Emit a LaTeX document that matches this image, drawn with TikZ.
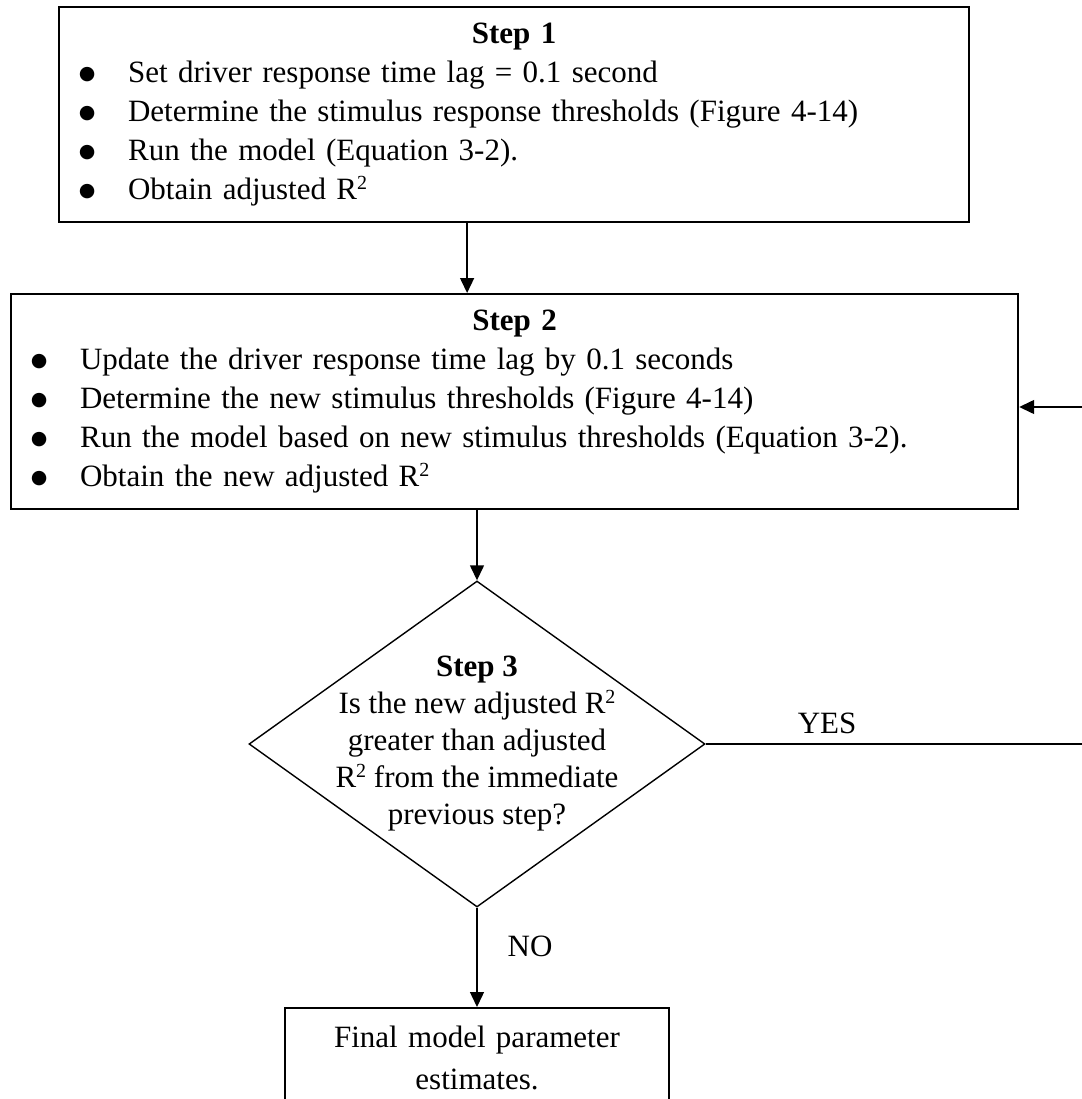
\documentclass[tikz,border=0pt]{standalone}
\usepackage{fontspec}
\setmainfont{Liberation Serif}
\newfontfamily\dotfont{DejaVu Sans}
\usetikzlibrary{arrows.meta, shapes.geometric, positioning, calc}

\newcommand{\stepitem}[1]{\hspace*{14pt}\makebox[28pt][c]{\raisebox{3pt}{\fontsize{19}{19}\dotfont ●}}\hspace*{27pt}#1}
\newcommand{\rsq}{R\raisebox{10pt}{\fontsize{20}{20}\selectfont 2}}

\begin{document}
\begin{tikzpicture}[x=1pt, y=-1pt, ->, >={Triangle[length=15pt,width=14pt]},
 line width=1.4pt,
 every node/.style={font=\fontsize{31}{39}\selectfont},
 stepbox/.style={draw, rectangle, line width=2.2pt, inner sep=0pt,
   align=left, anchor=north west},
 decision/.style={draw, diamond, line width=1.4pt, inner sep=0pt,
   minimum width=456pt, minimum height=326pt},
 answer/.style={inner sep=0pt}]

  \useasboundingbox (0,0) rectangle (1081,1099);

  \node[stepbox, text width=910pt, minimum height=215pt] (step1) at (58,6) {%
    \null\hfill\textbf{Step 1}\hfill\null\\
    \stepitem{Set driver response time lag = 0.1 second}\\
    \stepitem{Determine the stimulus response thresholds (Figure 4-14)}\\
    \stepitem{Run the model (Equation 3-2).}\\
    \stepitem{Obtain adjusted \rsq}};

  \node[stepbox, text width=1007pt, minimum height=215pt] (step2) at (10,293) {%
    \null\hfill\textbf{Step 2}\hfill\null\\
    \stepitem{Update the driver response time lag by 0.1 seconds}\\
    \stepitem{Determine the new stimulus thresholds (Figure 4-14)}\\
    \stepitem{Run the model based on new stimulus thresholds (Equation 3-2).}\\
    \stepitem{Obtain the new adjusted \rsq}};

  \node[decision] (step3) at (477,744) {};
  \node[align=center, inner sep=0pt, font=\fontsize{31}{37}\selectfont]
    (step3text) at (step3.center) {%
    \textbf{Step 3}\\
    Is the new adjusted \rsq\\
    greater than adjusted\\
    \rsq{} from the immediate\\
    previous step?};

  \node[stepbox, anchor=north, align=center, text width=384pt,
    minimum height=100pt, font=\fontsize{31}{42}\selectfont]
    (final) at (477,1007) {Final model parameter\\estimates.};

  \coordinate (back) at (1085,407);

  % main flow
  \draw ([xshift=-47pt]step1.south) -- ([xshift=-47pt]step1.south |- step2.north);
  \draw (step2.south -| step3.north) -- (step3.north);
  \draw (step3.south) -- node[answer, pos=0.39, right=30pt] {NO} (final.north);

  % loop back
  \draw (step3.east) -- node[answer, pos=0.32, above=10pt] {YES} (step3.east -| back)
    -- (back) -- (back -| step2.east);
\end{tikzpicture}
\end{document}
